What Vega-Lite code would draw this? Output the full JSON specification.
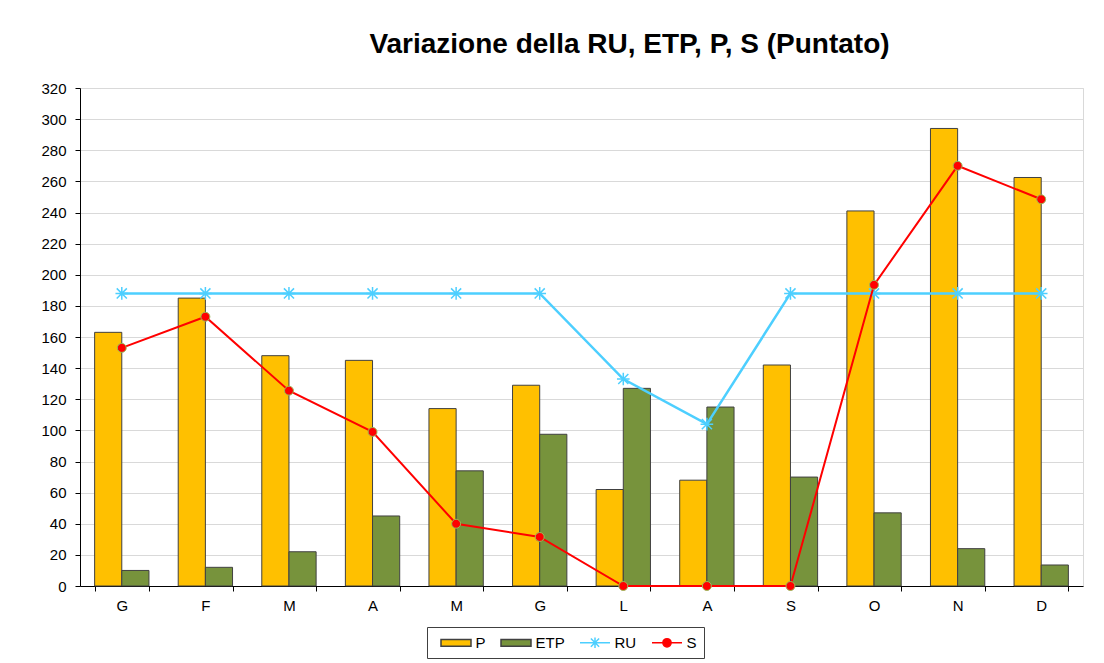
{
  "$schema": "https://vega.github.io/schema/vega-lite/v6.json",
  "autosize": "none",
  "width": 1003,
  "height": 498,
  "padding": {"left": 80, "top": 88, "right": 21, "bottom": 77},
  "background": "white",
  "title": {
    "text": "Variazione della RU, ETP, P, S (Puntato)",
    "font": "Liberation Sans",
    "fontSize": 28,
    "fontWeight": "bold",
    "color": "#000000",
    "anchor": "middle",
    "dx": 48,
    "offset": 22
  },
  "config": {
    "font": "Liberation Sans",
    "view": {"stroke": "#D9D9D9", "strokeWidth": 1},
    "axis": {
      "labelFont": "Liberation Sans",
      "labelFontSize": 15,
      "labelColor": "#000000",
      "domainColor": "#000000",
      "tickColor": "#000000",
      "tickSize": 5,
      "title": null
    },
    "legend": {
      "symbolBaseFillColor": "#FFFFFF"
    }
  },
  "data": {
    "values": [
      {"mese": "Gennaio", "serie": "P", "valore": 163},
      {"mese": "Febbraio", "serie": "P", "valore": 185},
      {"mese": "Marzo", "serie": "P", "valore": 148},
      {"mese": "Aprile", "serie": "P", "valore": 145},
      {"mese": "Maggio", "serie": "P", "valore": 114},
      {"mese": "Giugno", "serie": "P", "valore": 129},
      {"mese": "Luglio", "serie": "P", "valore": 62},
      {"mese": "Agosto", "serie": "P", "valore": 68},
      {"mese": "Settembre", "serie": "P", "valore": 142},
      {"mese": "Ottobre", "serie": "P", "valore": 241},
      {"mese": "Novembre", "serie": "P", "valore": 294},
      {"mese": "Dicembre", "serie": "P", "valore": 262.5},
      {"mese": "Gennaio", "serie": "ETP", "valore": 10},
      {"mese": "Febbraio", "serie": "ETP", "valore": 12},
      {"mese": "Marzo", "serie": "ETP", "valore": 22},
      {"mese": "Aprile", "serie": "ETP", "valore": 45},
      {"mese": "Maggio", "serie": "ETP", "valore": 74},
      {"mese": "Giugno", "serie": "ETP", "valore": 97.5},
      {"mese": "Luglio", "serie": "ETP", "valore": 127},
      {"mese": "Agosto", "serie": "ETP", "valore": 115},
      {"mese": "Settembre", "serie": "ETP", "valore": 70},
      {"mese": "Ottobre", "serie": "ETP", "valore": 47},
      {"mese": "Novembre", "serie": "ETP", "valore": 24},
      {"mese": "Dicembre", "serie": "ETP", "valore": 13.5},
      {"mese": "Gennaio", "serie": "RU", "valore": 188},
      {"mese": "Febbraio", "serie": "RU", "valore": 188},
      {"mese": "Marzo", "serie": "RU", "valore": 188},
      {"mese": "Aprile", "serie": "RU", "valore": 188},
      {"mese": "Maggio", "serie": "RU", "valore": 188},
      {"mese": "Giugno", "serie": "RU", "valore": 188},
      {"mese": "Luglio", "serie": "RU", "valore": 133},
      {"mese": "Agosto", "serie": "RU", "valore": 104},
      {"mese": "Settembre", "serie": "RU", "valore": 188},
      {"mese": "Ottobre", "serie": "RU", "valore": 188},
      {"mese": "Novembre", "serie": "RU", "valore": 188},
      {"mese": "Dicembre", "serie": "RU", "valore": 188},
      {"mese": "Gennaio", "serie": "S", "valore": 153},
      {"mese": "Febbraio", "serie": "S", "valore": 173},
      {"mese": "Marzo", "serie": "S", "valore": 125.5},
      {"mese": "Aprile", "serie": "S", "valore": 99},
      {"mese": "Maggio", "serie": "S", "valore": 40},
      {"mese": "Giugno", "serie": "S", "valore": 31.5},
      {"mese": "Luglio", "serie": "S", "valore": 0},
      {"mese": "Agosto", "serie": "S", "valore": 0},
      {"mese": "Settembre", "serie": "S", "valore": 0},
      {"mese": "Ottobre", "serie": "S", "valore": 193.5},
      {"mese": "Novembre", "serie": "S", "valore": 270},
      {"mese": "Dicembre", "serie": "S", "valore": 248.5}
    ]
  },
  "encoding": {
    "x": {
      "field": "mese",
      "type": "nominal",
      "sort": ["Gennaio", "Febbraio", "Marzo", "Aprile", "Maggio", "Giugno", "Luglio", "Agosto", "Settembre", "Ottobre", "Novembre", "Dicembre"],
      "scale": {"paddingInner": 0.35, "paddingOuter": 0.175},
      "axis": {
        "labelAngle": 0,
        "labelExpr": "substring(datum.label, 0, 1)",
        "tickBand": "extent",
        "labelPadding": 7,
        "grid": false
      }
    },
    "y": {
      "field": "valore",
      "type": "quantitative",
      "scale": {"domain": [0, 320], "nice": false},
      "axis": {
        "values": [0, 20, 40, 60, 80, 100, 120, 140, 160, 180, 200, 220, 240, 260, 280, 300, 320],
        "grid": true,
        "gridColor": "#D9D9D9",
        "labelPadding": 9
      }
    }
  },
  "layer": [
    {
      "transform": [{"filter": "datum.serie === 'P'"}],
      "mark": {"type": "bar", "fill": "#FFC000", "stroke": "#404040", "strokeWidth": 1},
      "encoding": {
        "xOffset": {"field": "serie", "type": "nominal", "scale": {"domain": ["P", "ETP"], "paddingInner": 0, "paddingOuter": 0}}
      }
    },
    {
      "transform": [{"filter": "datum.serie === 'ETP'"}],
      "mark": {"type": "bar", "fill": "#77933C", "stroke": "#404040", "strokeWidth": 1},
      "encoding": {
        "xOffset": {"field": "serie", "type": "nominal", "scale": {"domain": ["P", "ETP"], "paddingInner": 0, "paddingOuter": 0}}
      }
    },
    {
      "transform": [{"filter": "datum.serie === 'RU'"}],
      "mark": {"type": "line", "stroke": "#4DCFFF", "strokeWidth": 2.5},
      "encoding": {}
    },
    {
      "transform": [{"filter": "datum.serie === 'RU'"}],
      "mark": {
        "type": "point",
        "shape": "M-0.8,-0.8L0.8,0.8M-0.8,0.8L0.8,-0.8M0,-1L0,1M-1,0L1,0",
        "filled": false,
        "stroke": "#4DCFFF",
        "strokeWidth": 1.5,
        "size": 160,
        "opacity": 1
      },
      "encoding": {}
    },
    {
      "transform": [{"filter": "datum.serie === 'S'"}],
      "mark": {"type": "line", "stroke": "#FF0000", "strokeWidth": 2},
      "encoding": {}
    },
    {
      "transform": [{"filter": "datum.serie === 'S'"}],
      "mark": {
        "type": "point",
        "shape": "circle",
        "filled": true,
        "fill": "#FF0000",
        "stroke": "#9BBB59",
        "strokeWidth": 1,
        "size": 80,
        "opacity": 1
      },
      "encoding": {}
    },
    {
      "mark": {"type": "point", "filled": true, "opacity": 0, "size": 225, "strokeWidth": 1.5},
      "encoding": {
        "fill": {
          "field": "serie",
          "type": "nominal",
          "scale": {"domain": ["P", "ETP", "RU", "S"], "range": ["#FFC000", "#77933C", "transparent", "#FF0000"]},
          "legend": {
            "title": null,
            "orient": "none",
            "direction": "horizontal",
            "legendX": 347,
            "legendY": 539,
            "padding": 7,
            "strokeColor": "#404040",
            "fillColor": "#FFFFFF",
            "labelFont": "Liberation Sans",
            "labelFontSize": 15,
            "labelColor": "#000000",
            "symbolSize": 225,
            "symbolOffset": 13.5,
            "labelOffset": 11,
            "columnPadding": 8,
            "symbolOpacity": 1,
            "symbolStrokeWidth": 1.5,
            "symbolFillColor": "#FFFFFF"
          }
        },
        "stroke": {
          "field": "serie",
          "type": "nominal",
          "scale": {"domain": ["P", "ETP", "RU", "S"], "range": ["#404040", "#404040", "#4DCFFF", "#FF0000"]},
          "legend": {
            "title": null,
            "orient": "none",
            "direction": "horizontal",
            "legendX": 347,
            "legendY": 539,
            "padding": 7,
            "strokeColor": "#404040",
            "fillColor": "#FFFFFF",
            "labelFont": "Liberation Sans",
            "labelFontSize": 15,
            "labelColor": "#000000",
            "symbolSize": 225,
            "symbolOffset": 13.5,
            "labelOffset": 11,
            "columnPadding": 8,
            "symbolOpacity": 1,
            "symbolStrokeWidth": 1.5,
            "symbolFillColor": "#FFFFFF"
          }
        },
        "shape": {
          "field": "serie",
          "type": "nominal",
          "scale": {
            "domain": ["P", "ETP", "RU", "S"],
            "range": [
              "M-2,-0.45H2V0.45H-2Z",
              "M-2,-0.45H2V0.45H-2Z",
              "M-2,0H2M-0.55,-0.55L0.55,0.55M-0.55,0.55L0.55,-0.55M0,-0.7V0.7",
              "M-2,0H2M-0.55,0A0.55,0.55,0,1,1,0.55,0A0.55,0.55,0,1,1,-0.55,0Z"
            ]
          },
          "legend": {
            "title": null,
            "orient": "none",
            "direction": "horizontal",
            "legendX": 347,
            "legendY": 539,
            "padding": 7,
            "strokeColor": "#404040",
            "fillColor": "#FFFFFF",
            "labelFont": "Liberation Sans",
            "labelFontSize": 15,
            "labelColor": "#000000",
            "symbolSize": 225,
            "symbolOffset": 13.5,
            "labelOffset": 11,
            "columnPadding": 8,
            "symbolOpacity": 1,
            "symbolStrokeWidth": 1.5,
            "symbolFillColor": "#FFFFFF"
          }
        }
      }
    }
  ]
}
